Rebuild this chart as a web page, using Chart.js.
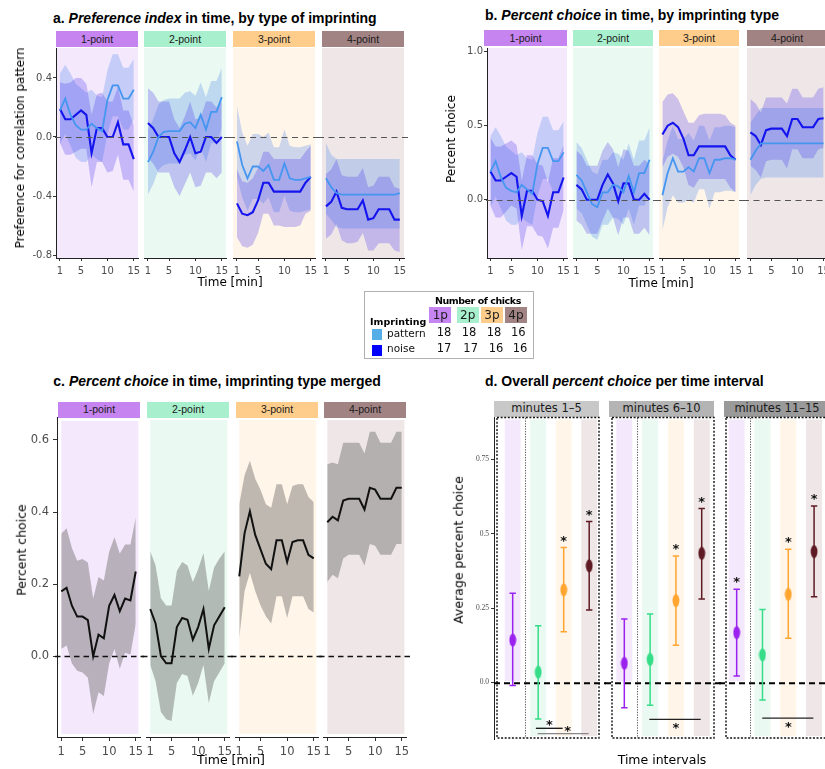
<!DOCTYPE html>
<html>
<head>
<meta charset="utf-8">
<script src="https://cdn.jsdelivr.net/npm/chart.js@4.4.0/dist/chart.umd.min.js"></script>
<style>
body{margin:0;background:#fff;width:825px;height:769px;overflow:hidden;position:relative;}
canvas{position:absolute;}
.strip{position:absolute;text-align:center;color:#1a1a1a;white-space:nowrap;overflow:hidden;}
</style>
</head>
<body>
<script>
// ---- data ----
const minutes = [1,2,3,4,5,6,7,8,9,10,11,12,13,14,15];
const facetLabels = ['1-point','2-point','3-point','4-point'];
const minuteTicks = [1,5,10,15];
const prefTicks = [-0.8,-0.4,0,0.4];
const prefTickLabels = ['-0.8','-0.4','0.0','0.4'];
const pctTicks = [0,0.5,1];
const pctTickLabels = ['0.0','0.5','1.0'];
const mergedTicks = [0,0.2,0.4,0.6];
const mergedTickLabels = ['0.0','0.2','0.4','0.6'];
const avgTicks = [0,0.25,0.5,0.75];
const avgTickLabels = ['0.0','0.25','0.5','0.75'];

// a. preference index
const prefPat1 = [0.18,0.26,0.15,0.08,0.05,0.05,0.09,0.06,0.04,0.25,0.35,0.35,0.26,0.26,0.32];
const prefPatLo1 = [-0.05,0.02,-0.06,-0.14,-0.17,-0.17,-0.12,-0.15,-0.17,0.02,0.14,0.14,0.05,0.05,0.12];
const prefPatHi1 = [0.43,0.49,0.43,0.36,0.33,0.30,0.32,0.28,0.27,0.45,0.56,0.56,0.47,0.47,0.53];
const prefNoi1 = [0.19,0.12,0.12,0.15,0.18,0.15,-0.11,0.06,0.06,0.0,0.0,0.10,-0.05,-0.05,-0.15];
const prefNoiLo1 = [-0.04,-0.12,-0.12,-0.10,-0.08,-0.08,-0.34,-0.17,-0.17,-0.24,-0.23,-0.12,-0.29,-0.29,-0.37];
const prefNoiHi1 = [0.37,0.36,0.37,0.40,0.40,0.36,0.15,0.29,0.30,0.24,0.24,0.34,0.18,0.18,0.08];

const prefPat2 = [-0.17,-0.10,0.0,0.035,0.04,0.04,0.04,0.09,0.10,0.06,0.15,0.05,0.17,0.17,0.27];
const prefPatLo2 = [-0.39,-0.32,-0.22,-0.19,-0.18,-0.18,-0.18,-0.12,-0.11,-0.16,-0.07,-0.17,-0.04,-0.04,0.06];
const prefPatHi2 = [0.05,0.12,0.22,0.25,0.26,0.26,0.26,0.30,0.31,0.28,0.37,0.27,0.38,0.38,0.47];
const prefNoi2 = [0.095,0.06,0.0,0.0,0.0,-0.11,-0.17,-0.09,0.0,-0.11,-0.10,0.0,0.0,-0.04,0.0];
const prefNoiLo2 = [-0.14,-0.18,-0.24,-0.24,-0.24,-0.34,-0.40,-0.32,-0.24,-0.34,-0.33,-0.24,-0.24,-0.28,-0.24];
const prefNoiHi2 = [0.33,0.30,0.24,0.24,0.24,0.12,0.06,0.14,0.24,0.12,0.13,0.24,0.24,0.20,0.24];

const prefPat3 = [-0.03,-0.19,-0.28,-0.20,-0.20,-0.23,-0.19,-0.29,-0.29,-0.18,-0.28,-0.29,-0.29,-0.28,-0.27];
const prefPatLo3 = [-0.27,-0.41,-0.50,-0.42,-0.42,-0.45,-0.41,-0.51,-0.51,-0.40,-0.50,-0.51,-0.51,-0.50,-0.49];
const prefPatHi3 = [0.21,0.03,-0.06,0.02,0.02,0.0,0.03,-0.07,-0.07,0.05,-0.06,-0.07,-0.07,-0.06,-0.05];
const prefNoi3 = [-0.45,-0.52,-0.53,-0.51,-0.43,-0.31,-0.31,-0.37,-0.37,-0.37,-0.37,-0.37,-0.37,-0.31,-0.27];
const prefNoiLo3 = [-0.68,-0.74,-0.75,-0.73,-0.65,-0.52,-0.52,-0.60,-0.60,-0.61,-0.61,-0.61,-0.60,-0.52,-0.50];
const prefNoiHi3 = [-0.22,-0.30,-0.31,-0.28,-0.21,-0.10,-0.10,-0.15,-0.15,-0.15,-0.15,-0.15,-0.15,-0.10,-0.06];

const prefPat4 = [-0.28,-0.34,-0.38,-0.39,-0.39,-0.39,-0.39,-0.39,-0.39,-0.39,-0.39,-0.39,-0.39,-0.39,-0.38];
const prefPatLo4 = [-0.52,-0.56,-0.61,-0.62,-0.62,-0.62,-0.62,-0.62,-0.62,-0.62,-0.62,-0.62,-0.62,-0.62,-0.62];
const prefPatHi4 = [-0.04,-0.12,-0.15,-0.15,-0.15,-0.15,-0.15,-0.15,-0.15,-0.15,-0.15,-0.15,-0.15,-0.15,-0.15];
const prefNoi4 = [-0.47,-0.44,-0.37,-0.48,-0.49,-0.49,-0.49,-0.43,-0.56,-0.55,-0.49,-0.49,-0.49,-0.56,-0.56];
const prefNoiLo4 = [-0.69,-0.66,-0.59,-0.70,-0.72,-0.72,-0.71,-0.65,-0.77,-0.77,-0.72,-0.72,-0.72,-0.77,-0.78];
const prefNoiHi4 = [-0.25,-0.22,-0.15,-0.26,-0.27,-0.27,-0.27,-0.21,-0.34,-0.33,-0.27,-0.27,-0.27,-0.34,-0.35];

// b. percent choice by imprinting
const pctPat1 = [0.19,0.26,0.15,0.08,0.06,0.05,0.10,0.07,0.04,0.24,0.35,0.35,0.26,0.26,0.32];
const pctPatLo1 = [-0.05,0.02,-0.06,-0.14,-0.17,-0.17,-0.12,-0.15,-0.17,0.02,0.14,0.14,0.05,0.05,0.12];
const pctPatHi1 = [0.43,0.49,0.43,0.36,0.33,0.30,0.32,0.28,0.27,0.45,0.56,0.56,0.47,0.47,0.53];
const pctNoi1 = [0.19,0.13,0.13,0.155,0.18,0.155,-0.11,0.06,0.06,0.0,-0.01,-0.11,0.05,0.05,0.15];
const pctNoiLo1 = [-0.04,-0.12,-0.12,-0.08,-0.04,-0.06,-0.34,-0.18,-0.18,-0.24,-0.25,-0.33,-0.19,-0.19,-0.07];
const pctNoiHi1 = [0.42,0.36,0.36,0.38,0.40,0.37,0.13,0.30,0.30,0.24,0.23,0.12,0.28,0.28,0.37];

const pctPat2 = [0.167,0.13,0.05,-0.03,-0.05,0.05,0.05,0.10,0.09,0.05,0.16,0.05,0.18,0.18,0.27];
const pctPatLo2 = [-0.06,-0.09,-0.17,-0.25,-0.27,-0.17,-0.17,-0.12,-0.13,-0.17,-0.06,-0.17,-0.04,-0.04,0.05];
const pctPatHi2 = [0.39,0.35,0.27,0.19,0.17,0.27,0.27,0.32,0.31,0.27,0.38,0.27,0.40,0.40,0.49];
const pctNoi2 = [0.10,0.07,0.0,0.0,0.0,0.10,0.17,0.11,-0.01,0.11,0.11,0.0,0.0,0.04,0.0];
const pctNoiLo2 = [-0.14,-0.17,-0.23,-0.23,-0.23,-0.14,-0.06,-0.12,-0.24,-0.12,-0.12,-0.23,-0.23,-0.19,-0.24];
const pctNoiHi2 = [0.33,0.30,0.23,0.23,0.23,0.33,0.39,0.34,0.22,0.34,0.33,0.23,0.23,0.27,0.24];

const pctPat3 = [0.03,0.18,0.28,0.19,0.19,0.22,0.19,0.28,0.28,0.18,0.27,0.27,0.28,0.28,0.27];
const pctPatLo3 = [-0.21,-0.05,0.03,-0.02,-0.02,0.0,-0.02,0.07,0.07,-0.06,0.05,0.05,0.06,0.06,0.05];
const pctPatHi3 = [0.26,0.40,0.50,0.41,0.41,0.45,0.40,0.50,0.50,0.40,0.49,0.49,0.50,0.50,0.49];
const pctNoi3 = [0.44,0.50,0.52,0.49,0.415,0.30,0.30,0.36,0.36,0.36,0.36,0.36,0.36,0.30,0.27];
const pctNoiLo3 = [0.22,0.29,0.31,0.29,0.22,0.10,0.08,0.14,0.14,0.14,0.14,0.14,0.14,0.08,0.05];
const pctNoiHi3 = [0.66,0.71,0.72,0.68,0.60,0.52,0.52,0.57,0.58,0.58,0.58,0.58,0.57,0.52,0.50];

const pctPat4 = [0.27,0.33,0.38,0.38,0.38,0.38,0.38,0.38,0.38,0.38,0.38,0.38,0.38,0.38,0.38];
const pctPatLo4 = [0.03,0.10,0.14,0.15,0.15,0.15,0.15,0.15,0.15,0.15,0.15,0.15,0.15,0.15,0.15];
const pctPatHi4 = [0.52,0.57,0.62,0.62,0.62,0.62,0.62,0.62,0.62,0.62,0.62,0.62,0.62,0.62,0.62];
const pctNoi4 = [0.455,0.43,0.37,0.47,0.48,0.48,0.48,0.43,0.545,0.545,0.49,0.49,0.49,0.545,0.55];
const pctNoiLo4 = [0.23,0.20,0.15,0.26,0.27,0.27,0.27,0.21,0.34,0.34,0.28,0.28,0.28,0.34,0.35];
const pctNoiHi4 = [0.68,0.65,0.59,0.69,0.69,0.69,0.69,0.65,0.75,0.75,0.69,0.69,0.69,0.75,0.76];

// c. percent choice, merged
const mergedMean1 = [0.18,0.19,0.14,0.11,0.11,0.10,0.0,0.06,0.05,0.14,0.17,0.125,0.16,0.155,0.235];
const mergedLo1 = [0.02,0.03,-0.02,-0.04,-0.045,-0.06,-0.16,-0.10,-0.11,-0.02,0.02,-0.035,0.01,0.005,0.09];
const mergedHi1 = [0.34,0.355,0.30,0.265,0.27,0.26,0.16,0.22,0.21,0.29,0.33,0.285,0.31,0.31,0.385];
const mergedMean2 = [0.13,0.09,0.0,-0.02,-0.02,0.08,0.105,0.10,0.045,0.08,0.13,0.02,0.085,0.11,0.135];
const mergedLo2 = [-0.025,-0.07,-0.155,-0.175,-0.18,-0.075,-0.05,-0.055,-0.11,-0.075,-0.025,-0.13,-0.07,-0.045,-0.02];
const mergedHi2 = [0.29,0.25,0.16,0.14,0.14,0.235,0.26,0.25,0.205,0.24,0.285,0.18,0.245,0.27,0.29];
const mergedMean3 = [0.22,0.34,0.40,0.335,0.295,0.255,0.24,0.32,0.32,0.26,0.315,0.32,0.32,0.28,0.27];
const mergedLo3 = [0.05,0.18,0.23,0.18,0.14,0.11,0.09,0.165,0.165,0.105,0.165,0.165,0.165,0.13,0.12];
const mergedHi3 = [0.42,0.50,0.54,0.49,0.46,0.42,0.41,0.475,0.475,0.42,0.47,0.475,0.475,0.44,0.425];
const mergedMean4 = [0.37,0.385,0.375,0.43,0.435,0.435,0.435,0.405,0.465,0.46,0.435,0.435,0.435,0.465,0.465];
const mergedLo4 = [0.205,0.225,0.215,0.27,0.28,0.28,0.28,0.25,0.31,0.305,0.28,0.28,0.28,0.31,0.31];
const mergedHi4 = [0.53,0.535,0.53,0.59,0.59,0.59,0.59,0.56,0.62,0.62,0.59,0.59,0.59,0.62,0.62];

// d. overall percent choice per interval
const intervalLabels = ['minutes 1\u20135','minutes 6\u201310','minutes 11\u201315'];
const imprintTypes = [1,2,3,4];
const avgMean1 = [0.142,0.034,0.311,0.392];
const avgLo1 = [-0.011,-0.124,0.17,0.243];
const avgHi1 = [0.30,0.19,0.454,0.541];
const avgMean2 = [0.064,0.077,0.275,0.434];
const avgLo2 = [-0.086,-0.077,0.125,0.28];
const avgHi2 = [0.213,0.23,0.425,0.585];
const avgMean3 = [0.167,0.092,0.296,0.44];
const avgLo3 = [0.021,-0.06,0.148,0.288];
const avgHi3 = [0.313,0.245,0.448,0.593];
const avgSig1 = ['','','*','*'];
const avgSig2 = ['','','*','*'];
const avgSig3 = ['*','','*','*'];
const pairTests1 = [{from:1.91,to:2.96,y:-0.155,color:'#111',starX:2.44,starY:-0.133},
                    {from:1.98,to:3.98,y:-0.173,color:'#888',starX:3.16,starY:-0.153}];
const pairTests2 = [{from:1.97,to:3.96,y:-0.125,color:'#222',starX:3.0,starY:-0.142}];
const pairTests3 = [{from:1.99,to:3.97,y:-0.121,color:'#222',starX:3.0,starY:-0.139}];

// legend counts
const chickTypes = ['1p','2p','3p','4p'];
const chicksPattern = [18,18,18,16];
const chicksNoise = [17,17,16,16];

// ---- style ----
const facetBg = ['#f4e8fc','#eaf9f1','#fff5e9','#efe7e7'];
const stripCol = ['#c584ef','#a8f0cd','#fecd8b','#a18384'];
const patLine = '#4596f0', noiLine = '#1414ee';
const patBand = 'rgba(100,149,237,0.33)', noiBand = 'rgba(60,40,235,0.25)';
const avgColors = ['#9b22ee','#35dd88','#ffa530','#5e1b24'];
const intervalStrip = ['#c8c8c8','#b4b4b4','#9a9a9a'];

function txt(html, x, base, o){
  o = o || {};
  const fs = o.size || 12;
  const d = document.createElement('div');
  d.innerHTML = html;
  d.style.cssText = 'position:absolute;white-space:nowrap;line-height:' + fs + 'px;font-size:' + fs + 'px;' +
    'font-family:' + (o.family || '"DejaVu Sans"') + ';color:' + (o.color || '#000') + ';font-weight:' + (o.bold ? 'bold' : 'normal') +
    ';left:' + x + 'px;top:' + (base - 0.846 * fs) + 'px;';
  if (o.align === 'center') d.style.transform = 'translateX(-50%)';
  if (o.rotate) { d.style.top = base + 'px'; d.style.transform = 'translate(-50%,-50%) rotate(-90deg)'; }
  if (o.ls) d.style.letterSpacing = o.ls;
  document.body.appendChild(d);
}
function strip(l, t, w, h, bg, label, fs, family){
  const d = document.createElement('div');
  d.className = 'strip';
  d.textContent = label;
  d.style.cssText += 'left:' + l + 'px;top:' + t + 'px;width:' + w + 'px;height:' + h + 'px;line-height:' + h + 'px;background:' + bg +
    ';font-size:' + fs + 'px;font-family:' + family + ';';
  document.body.appendChild(d);
}
function xy(v){ return minutes.map((m, k) => ({x: m, y: v[k]})); }
function band(lo, hi, color, order){
  return [
    {data: xy(lo), borderColor: 'rgba(0,0,0,0)', borderWidth: 0, pointRadius: 0, fill: false, order: order},
    {data: xy(hi), borderColor: 'rgba(0,0,0,0)', borderWidth: 0, pointRadius: 0, fill: '-1', backgroundColor: color, order: order}
  ];
}
function meanLine(v, color, w){
  return {data: xy(v), borderColor: color, borderWidth: w, pointRadius: 0, fill: false, order: 0};
}

function decor(o){
  return {
    id: 'decor',
    beforeDraw(chart){
      if (!o.bg) return;
      const {ctx, chartArea: a, scales: {x}} = chart;
      let l = a.left, r = a.right, t = a.top, b = a.bottom;
      if (o.bgX) { l = x.getPixelForValue(o.bgX[0]); r = x.getPixelForValue(o.bgX[1]); t += 3; b -= 3; }
      ctx.save(); ctx.fillStyle = o.bg; ctx.fillRect(l, t, r - l, b - t); ctx.restore();
    },
    afterDatasetsDraw(chart){
      if (!o.zero) return;
      const {ctx, chartArea: a, scales: {y}} = chart;
      const py = Math.round(y.getPixelForValue(0)) + 0.5;
      ctx.save(); ctx.strokeStyle = o.zero.color; ctx.lineWidth = o.zero.width; ctx.setLineDash(o.zero.dash);
      ctx.beginPath(); ctx.moveTo(a.left - o.zero.extL, py); ctx.lineTo(a.right + o.zero.extR, py); ctx.stroke(); ctx.restore();
    }
  };
}

function facet(o){
  const pad = 10;
  const yw = o.yAxis ? o.yAxis.w : 0;
  const xh = o.xAxis ? o.xAxis.h : 0;
  const padB = xh ? 0 : pad;
  const left = o.l - pad - yw, top = o.t - pad;
  const W = o.w + 2 * pad + yw, H = o.h + pad + xh + padB;
  const cv = document.createElement('canvas');
  cv.width = W; cv.height = H;
  cv.style.cssText = 'left:' + left + 'px;top:' + top + 'px;width:' + W + 'px;height:' + H + 'px;';
  document.body.appendChild(cv);
  const tickFont = {family: o.tickFamily || 'DejaVu Sans', size: o.tickSize};
  return new Chart(cv, {
    type: o.type || 'line',
    data: {datasets: o.datasets},
    options: {
      responsive: false, animation: false, devicePixelRatio: 1, events: [],
      layout: {padding: {left: pad, right: pad, top: pad, bottom: padB}},
      plugins: {legend: {display: false}, tooltip: {enabled: false}},
      scales: {
        x: {type: 'linear', min: o.xr[0], max: o.xr[1], display: !!o.xAxis,
          afterBuildTicks: ax => { ax.ticks = (o.xAxis ? o.xAxis.ticks : []).map(v => ({value: v})); },
          afterFit: ax => { ax.height = xh; },
          grid: {display: true, drawOnChartArea: false, drawTicks: true, tickLength: o.tickLen || 3, color: '#333'},
          border: {display: true, color: '#222', width: 1},
          ticks: {font: tickFont, color: '#4d4d4d', padding: o.xPad || 1, maxRotation: 0, autoSkip: false, callback: v => String(v)}},
        y: {type: 'linear', min: o.yr[0], max: o.yr[1], display: !!o.yAxis,
          afterBuildTicks: ax => { ax.ticks = (o.yAxis ? o.yAxis.ticks : []).map(v => ({value: v})); },
          afterFit: ax => { ax.width = yw; },
          grid: {display: true, drawOnChartArea: false, drawTicks: true, tickLength: o.tickLen || 3, color: '#333'},
          border: {display: true, color: '#222', width: 1},
          ticks: {font: tickFont, color: '#4d4d4d', padding: o.yPad || 1, autoSkip: false,
            callback: (v, i) => o.yAxis ? o.yAxis.labels[i] : ''}}
      }
    },
    plugins: o.plugins
  });
}

// ---- panel a ----
const prefPat = [prefPat1, prefPat2, prefPat3, prefPat4];
const prefPatLo = [prefPatLo1, prefPatLo2, prefPatLo3, prefPatLo4];
const prefPatHi = [prefPatHi1, prefPatHi2, prefPatHi3, prefPatHi4];
const prefNoi = [prefNoi1, prefNoi2, prefNoi3, prefNoi4];
const prefNoiLo = [prefNoiLo1, prefNoiLo2, prefNoiLo3, prefNoiLo4];
const prefNoiHi = [prefNoiHi1, prefNoiHi2, prefNoiHi3, prefNoiHi4];
const aLeft = [56,144,233,322];
facetLabels.forEach((name, i) => {
  strip(aLeft[i], 31, 82, 16, stripCol[i], name, 10.5, '"Liberation Sans", Arial, sans-serif');
  facet({l: aLeft[i], t: 48, w: 82, h: 210, xr: [0.25,15.8], yr: [-0.82,0.603],
    xAxis: {h: 24, ticks: minuteTicks}, yAxis: i === 0 ? {w: 44, ticks: prefTicks, labels: prefTickLabels} : null,
    tickSize: 10, xPad: 4,
    datasets: [].concat(band(prefPatLo[i], prefPatHi[i], patBand, 3), band(prefNoiLo[i], prefNoiHi[i], noiBand, 2),
      [meanLine(prefPat[i], patLine, 1.8), meanLine(prefNoi[i], noiLine, 2.1)]),
    plugins: [decor({bg: facetBg[i], zero: {color: '#555', width: 1.2, dash: [6,4.5], extL: i ? 4 : 1, extR: 4}})]});
});
txt('<b>a. <i>Preference index</i> in time, by type of imprinting</b>', 53, 22.7, {size: 14, family: '"Liberation Sans", Arial, sans-serif'});
txt('Preference for correlation pattern', 20, 148, {size: 12, rotate: true});
txt('Time [min]', 230, 286, {size: 12, align: 'center'});

// ---- panel b ----
const pctPat = [pctPat1, pctPat2, pctPat3, pctPat4];
const pctPatLo = [pctPatLo1, pctPatLo2, pctPatLo3, pctPatLo4];
const pctPatHi = [pctPatHi1, pctPatHi2, pctPatHi3, pctPatHi4];
const pctNoi = [pctNoi1, pctNoi2, pctNoi3, pctNoi4];
const pctNoiLo = [pctNoiLo1, pctNoiLo2, pctNoiLo3, pctNoiLo4];
const pctNoiHi = [pctNoiHi1, pctNoiHi2, pctNoiHi3, pctNoiHi4];
const bLeft = [487,573,659,747];
facetLabels.forEach((name, i) => {
  strip(bLeft[i] - (i ? 0 : 3), 29.5, 80 + (i ? 0 : 3), 16.5, stripCol[i], name, 10.5, '"Liberation Sans", Arial, sans-serif');
  facet({l: bLeft[i], t: 48, w: 80, h: 210, xr: [0.35,15.65], yr: [-0.394,1.025],
    xAxis: {h: 24, ticks: minuteTicks}, yAxis: i === 0 ? {w: 40, ticks: pctTicks, labels: pctTickLabels} : null,
    tickSize: 10, xPad: 4,
    datasets: [].concat(band(pctPatLo[i], pctPatHi[i], patBand, 3), band(pctNoiLo[i], pctNoiHi[i], noiBand, 2),
      [meanLine(pctPat[i], patLine, 1.8), meanLine(pctNoi[i], noiLine, 2.1)]),
    plugins: [decor({bg: facetBg[i], zero: {color: '#555', width: 1.2, dash: [6,4.5], extL: i ? 4 : 1, extR: 4}})]});
});
txt('<b>b. <i>Percent choice</i> in time, by imprinting type</b>', 485, 20, {size: 14, family: '"Liberation Sans", Arial, sans-serif'});
txt('Percent choice', 451, 139, {size: 12, rotate: true});
txt('Time [min]', 661, 287, {size: 12, align: 'center'});

// ---- legend ----
(function(){
  const L = 364, T = 291;
  const box = document.createElement('div');
  box.style.cssText = 'position:absolute;left:' + L + 'px;top:' + T + 'px;width:168px;height:66px;border:1px solid #b0b0b0;background:#fff;';
  document.body.appendChild(box);
  txt('<b>Number of chicks</b>', L + 71, T + 13, {size: 9.5, ls: '-0.45px'});
  const chipX = [65.3, 92.7, 117, 141];
  chickTypes.forEach((c, k) => {
    strip(L + chipX[k], T + 16, 22, 16, stripCol[k], c, 12, '"DejaVu Sans", sans-serif');
  });
  txt('<b>Imprinting</b>', L + 6, T + 34, {size: 9.5});
  const sq = (y, col) => { const d = document.createElement('div');
    d.style.cssText = 'position:absolute;left:' + (L + 7.7) + 'px;top:' + (T + y) + 'px;width:10px;height:11px;background:' + col + ';';
    document.body.appendChild(d); };
  sq(38, '#56aee8'); sq(54, '#0000ff');
  txt('pattern', L + 23, T + 45.7, {size: 10.5, color: '#111'});
  txt('noise', L + 23, T + 61.3, {size: 10.5, color: '#111'});
  const row1 = [80, 105, 130, 154.3], row2 = [80, 106.7, 132, 156];
  chicksPattern.forEach((n, k) => txt(String(n), L + row1[k], T + 45.7, {size: 11.5, align: 'center', color: '#111'}));
  chicksNoise.forEach((n, k) => txt(String(n), L + row2[k], T + 61.3, {size: 11.5, align: 'center', color: '#111'}));
})();

// ---- panel c ----
const mergedMean = [mergedMean1, mergedMean2, mergedMean3, mergedMean4];
const mergedLo = [mergedLo1, mergedLo2, mergedLo3, mergedLo4];
const mergedHi = [mergedHi1, mergedHi2, mergedHi3, mergedHi4];
const cLeft = [57,146,235,323];
facetLabels.forEach((name, i) => {
  strip(cLeft[i] + 1, 402, 82, 15.5, stripCol[i], name, 10.5, '"Liberation Sans", Arial, sans-serif');
  facet({l: cLeft[i], t: 417, w: 83, h: 320, xr: [0.2,15.8], yr: [-0.224,0.661],
    xAxis: {h: 24, ticks: minuteTicks}, yAxis: i === 0 ? {w: 46, ticks: mergedTicks, labels: mergedTickLabels} : null,
    tickSize: 11.5, tickLen: 4, xPad: 4, yPad: 4,
    datasets: [].concat(band(mergedLo[i], mergedHi[i], 'rgba(100,100,100,0.42)', 2), [meanLine(mergedMean[i], '#111', 2)]),
    plugins: [decor({bg: facetBg[i], bgX: [1, 15.5], zero: {color: '#111', width: 1.6, dash: [5.5,4], extL: i ? 4 : 2, extR: 4}})]});
});
txt('<b>c. <i>Percent choice</i> in time, imprinting type merged</b>', 53.3, 386, {size: 14, family: '"Liberation Sans", Arial, sans-serif'});
txt('Percent choice', 22, 550, {size: 12.5, rotate: true});
txt('Time [min]', 231, 765, {size: 12.5, align: 'center'});

// ---- panel d ----
const avgMean = [avgMean1, avgMean2, avgMean3];
const avgLo = [avgLo1, avgLo2, avgLo3];
const avgHi = [avgHi1, avgHi2, avgHi3];
const avgSig = [avgSig1, avgSig2, avgSig3];
const pairTests = [pairTests1, pairTests2, pairTests3];
function ellipseImg(color){
  const c = document.createElement('canvas'); c.width = 8; c.height = 14;
  const g = c.getContext('2d'); g.fillStyle = color;
  g.beginPath(); g.ellipse(4, 7, 3.4, 6.4, 0, 0, Math.PI * 2); g.fill();
  return c;
}
const ellipses = avgColors.map(ellipseImg);
const dLeft = [494,611,725], dWidth = [106,104,104];
const dRange = [[0.267,4.424],[0.484,4.515],[0.547,4.578]];
function intervalPlugin(i){
  const inset = i === 0 ? 2 : 0;
  return {
    id: 'interval',
    beforeDraw(chart){
      const {ctx, chartArea: a, scales: {x, y}} = chart;
      ctx.save();
      imprintTypes.forEach((t, k) => {
        const l = x.getPixelForValue(t - 0.31), r = x.getPixelForValue(t + 0.31);
        const bot = k === 0 ? y.getPixelForValue(0) - 1 : a.bottom - 3;
        ctx.fillStyle = facetBg[k];
        ctx.fillRect(l, a.top + 2.5, r - l, bot - a.top - 2.5);
      });
      ctx.restore();
    },
    beforeDatasetsDraw(chart){
      const {ctx, chartArea: a, scales: {x, y}} = chart;
      ctx.save();
      ctx.strokeStyle = '#111'; ctx.lineWidth = 1.4; ctx.setLineDash([2,1.6]);
      ctx.strokeRect(a.left + inset + 1, a.top + 0.5, a.right - a.left - inset - 2, a.bottom - a.top - 1.5);
      ctx.lineWidth = 0.8; ctx.setLineDash([1.3,1.3]); ctx.strokeStyle = '#333';
      const dx = Math.round(x.getPixelForValue(1.5)) + 0.5;
      ctx.beginPath(); ctx.moveTo(dx, a.top + 1); ctx.lineTo(dx, a.bottom - 1); ctx.stroke();
      const py = y.getPixelForValue(0) + 1;
      ctx.strokeStyle = '#000'; ctx.lineWidth = 2; ctx.setLineDash([6,4]);
      ctx.beginPath(); ctx.moveTo(a.left - (i ? 6 : 0), py); ctx.lineTo(a.right + 6, py); ctx.stroke();
      ctx.setLineDash([]);
      imprintTypes.forEach((t, k) => {
        const px = x.getPixelForValue(t);
        const top = y.getPixelForValue(avgHi[i][k]), bot = y.getPixelForValue(avgLo[i][k]);
        ctx.strokeStyle = avgColors[k]; ctx.lineWidth = 1.5;
        ctx.beginPath();
        ctx.moveTo(px, top); ctx.lineTo(px, bot);
        ctx.moveTo(px - 3.2, top); ctx.lineTo(px + 3.2, top);
        ctx.moveTo(px - 3.2, bot); ctx.lineTo(px + 3.2, bot);
        ctx.stroke();
      });
      ctx.restore();
    },
    afterDatasetsDraw(chart){
      const {ctx, scales: {x, y}} = chart;
      ctx.save();
      ctx.font = 'bold 13px "DejaVu Sans"'; ctx.textAlign = 'center'; ctx.textBaseline = 'alphabetic'; ctx.fillStyle = '#111';
      imprintTypes.forEach((t, k) => {
        if (avgSig[i][k]) ctx.fillText(avgSig[i][k], x.getPixelForValue(t), y.getPixelForValue(avgHi[i][k]) - 10.5 + 7.7);
      });
      pairTests[i].forEach(p => {
        const py = y.getPixelForValue(p.y);
        ctx.strokeStyle = p.color; ctx.lineWidth = 1.3;
        ctx.beginPath(); ctx.moveTo(x.getPixelForValue(p.from), py); ctx.lineTo(x.getPixelForValue(p.to), py); ctx.stroke();
        ctx.fillText('*', x.getPixelForValue(p.starX), y.getPixelForValue(p.starY) + 7.7);
      });
      ctx.restore();
    }
  };
}
const stripL = [494,609,724], stripW = [105,105,106];
intervalLabels.forEach((name, i) => {
  strip(stripL[i], 401, stripW[i], 15.5, intervalStrip[i], name, 11.5, '"DejaVu Sans", sans-serif');
  facet({type: 'scatter', l: dLeft[i], t: 417, w: dWidth[i], h: 322, xr: dRange[i], yr: [-0.191,0.893],
    xAxis: null, yAxis: i === 0 ? {w: 24, ticks: avgTicks, labels: avgTickLabels} : null,
    tickSize: 7.5, tickFamily: 'Liberation Sans Narrow', yPad: 2,
    datasets: [{data: imprintTypes.map((t, k) => ({x: t, y: avgMean[i][k]})), pointStyle: ellipses, pointRadius: 6,
      showLine: false, borderWidth: 0}],
    plugins: [intervalPlugin(i)]});
});
txt('<b>d. Overall <i>percent choice</i> per time interval</b>', 485, 386, {size: 14, family: '"Liberation Sans", Arial, sans-serif'});
txt('Average percent choice', 458.5, 550, {size: 12.5, rotate: true});
txt('Time intervals', 662, 765, {size: 12.5, align: 'center'});
</script>
</body>
</html>
